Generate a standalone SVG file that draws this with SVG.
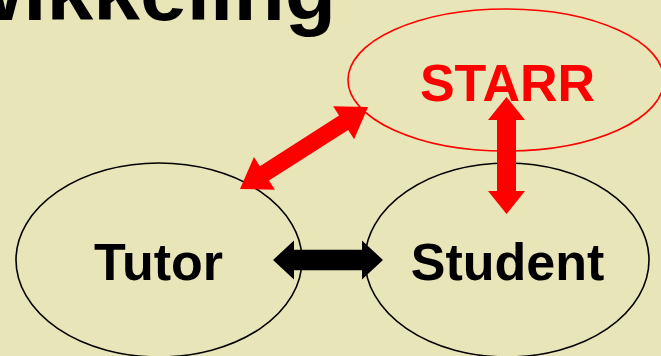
<svg xmlns="http://www.w3.org/2000/svg" width="661" height="356" viewBox="0 0 661 356">
<style>
.lbl{font-family:"Liberation Sans",Arial,sans-serif;font-weight:bold;font-size:52px;text-anchor:middle}
.node{fill:none;stroke-width:1.6}
</style>
<rect width="661" height="356" fill="#E8E5B9"/>
<text x="336" y="20" font-family="Liberation Sans, Arial, sans-serif" font-weight="bold" font-size="84" text-anchor="end" fill="#000">ontwikkeling</text>
<g id="starr">
<ellipse class="node" cx="506" cy="80" rx="158" ry="71" stroke="#FF0000"/>
<text class="lbl" x="507.5" y="101" fill="#FF0000">STARR</text>
</g>
<g id="tutor">
<ellipse class="node" cx="159" cy="260" rx="143" ry="97" stroke="#000"/>
<text class="lbl" x="158.5" y="280" fill="#000">Tutor</text>
</g>
<g id="student">
<ellipse class="node" cx="507" cy="260" rx="142" ry="97" stroke="#000"/>
<text class="lbl" x="507.5" y="280" fill="#000">Student</text>
</g>
<g id="connectors">
<polygon fill="#FF0000" transform="translate(240,189) rotate(-32.6)" points="0,0 29,-19.5 29,-8.5 123,-8.5 123,-19.5 152,0 123,19.5 123,8.5 29,8.5 29,19.5"/>
<polygon fill="#FF0000" points="506.5,97 525,120 516,120 516,191 525,191 506.5,214 488,191 497,191 497,120 488,120"/>
<polygon fill="#000" points="273,260 294,240.5 294,249.7 362,249.7 362,240.5 383,260 362,279.5 362,270.3 294,270.3 294,279.5"/>
</g>
</svg>
